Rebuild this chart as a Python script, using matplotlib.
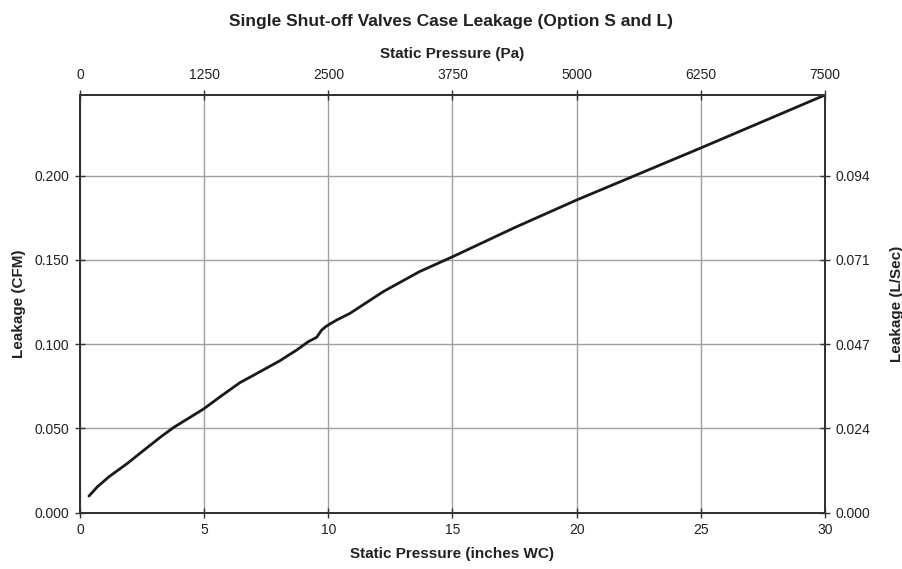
import matplotlib
matplotlib.use("Agg")
import matplotlib.pyplot as plt

plt.rcParams['font.family'] = ['Liberation Sans', 'DejaVu Sans']

# Data (static pressure in inches WC, leakage in CFM)
pressure_in = [0.36, 0.70, 1.17, 1.91, 2.58, 3.26, 3.79, 4.33, 4.97, 5.64, 6.44, 7.25,
               8.05, 8.73, 9.19, 9.53, 9.73, 9.90, 10.04, 10.34, 10.87, 12.21, 13.66,
               15.0, 17.5, 20.0, 24.16, 24.97, 30.0]
leakage_cfm = [0.0099, 0.0154, 0.0214, 0.0293, 0.0372, 0.0451, 0.0508, 0.0557, 0.0615,
               0.0688, 0.0772, 0.0837, 0.0902, 0.0966, 0.1015, 0.1041, 0.1084, 0.1105,
               0.1118, 0.1144, 0.1183, 0.1312, 0.1430, 0.1519, 0.1692, 0.1856, 0.2113,
               0.2163, 0.2479]

x_ticks = [0, 5, 10, 15, 20, 25, 30]
x_tick_labels = ['0', '5', '10', '15', '20', '25', '30']
top_tick_labels = ['0', '1250', '2500', '3750', '5000', '6250', '7500']
y_ticks = [0.0, 0.05, 0.10, 0.15, 0.20]
y_tick_labels = ['0.000', '0.050', '0.100', '0.150', '0.200']
right_tick_labels = ['0.000', '0.024', '0.047', '0.071', '0.094']

fig = plt.figure(figsize=(9.03, 5.69), dpi=100)
ax = fig.add_axes([0.0886, 0.0989, 0.9136 - 0.0886, 0.833 - 0.0989])

ax.plot(pressure_in, leakage_cfm, color='#1a1a1a', lw=2.0, solid_capstyle='round', zorder=3)

ax.set_xlim(0, 30)
ax.set_ylim(0, 0.2479)
ax.set_xticks(x_ticks)
ax.set_xticklabels(x_tick_labels)
ax.set_yticks(y_ticks)
ax.set_yticklabels(y_tick_labels)
ax.grid(True, color='#a0a0a0', lw=1.0, zorder=0)

tick_fs = 10
lab_fs = 11
ax.tick_params(direction='inout', length=7, width=1, colors='#333333', labelcolor='#222222',
               labelsize=tick_fs, pad=4)

for s in ax.spines.values():
    s.set_color('#333333')
    s.set_linewidth(1.2)

# top axis
axt = ax.twiny()
axt.set_xlim(0, 30)
axt.set_xticks(x_ticks)
axt.set_xticklabels(top_tick_labels)
axt.tick_params(direction='inout', length=7, width=1, colors='#333333', labelcolor='#222222',
                labelsize=tick_fs, pad=6)
axt.set_xlabel('Static Pressure (Pa)', fontsize=lab_fs, fontweight='bold', labelpad=7, color='#222222')

# right axis
axr = ax.twinx()
axr.set_ylim(0, 0.2479)
axr.set_yticks(y_ticks)
axr.set_yticklabels(right_tick_labels)
axr.tick_params(direction='inout', length=7, width=1, colors='#333333', labelcolor='#222222',
                labelsize=tick_fs, pad=4)
axr.set_ylabel('Leakage (L/Sec)', fontsize=lab_fs, fontweight='bold', labelpad=14, color='#222222')

for a in (axt, axr):
    for s in a.spines.values():
        s.set_color('#333333')
        s.set_linewidth(1.2)

ax.set_xlabel('Static Pressure (inches WC)', fontsize=lab_fs, fontweight='bold', labelpad=7, color='#222222')
ax.set_ylabel('Leakage (CFM)', fontsize=lab_fs, fontweight='bold', labelpad=6, color='#222222')

fig.suptitle('Single Shut-off Valves Case Leakage (Option S and L)', fontsize=12.5,
             fontweight='bold', y=0.975, color='#222222')

fig.savefig('out.png', dpi=100)
